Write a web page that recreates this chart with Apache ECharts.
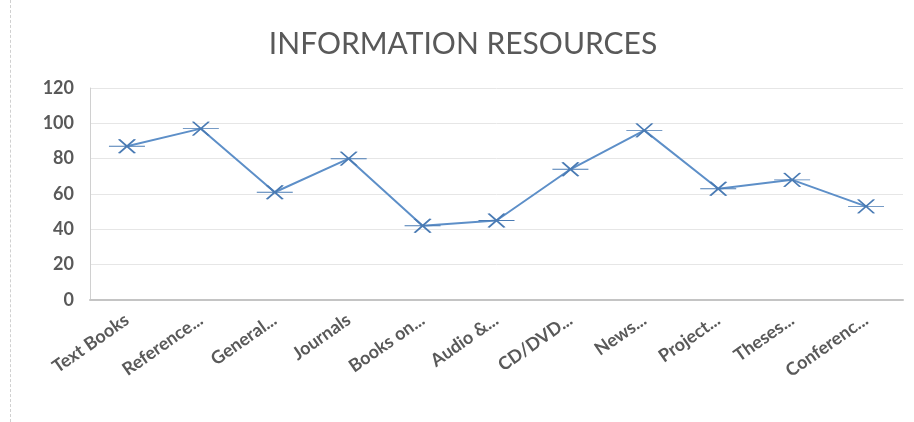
<!DOCTYPE html>
<html>
<head>
<meta charset="utf-8">
<script src="https://cdn.jsdelivr.net/npm/echarts@6/dist/echarts.min.js"></script>
<style>
  html, body { margin: 0; padding: 0; background: #fff; }
  .frame { position: absolute; left: 10px; top: 0; width: 904px; height: 422px; border-left: 1px dashed #d0d0d0; }
  #chart { width: 904px; height: 422px; }
</style>
</head>
<body>
<div class="frame"><div id="chart"></div></div>
<script>
// categories and values
const categories = ["Text Books", "Reference...", "General...", "Journals", "Books on...", "Audio &...",
  "CD/DVD...", "News...", "Project...", "Theses...", "Conferenc..."];
const values = [87, 97, 61, 80, 42, 45, 74, 96, 63, 68, 53];
const yTicks = { min: 0, max: 120, interval: 20 };

const blue = "#4a7bb4";
const grey = "#595959";
// excel style star marker: an X crossed by a wide horizontal bar
const starMarker = "path://M0,7 L36,7 M10,0 L26,14 M26,0 L10,14";

const mycharts = echarts.init(document.getElementById("chart"));
const options = {
  animation: false,
  title: {
    text: "INFORMATION RESOURCES",
    left: "center",
    top: 24,
    textStyle: { fontFamily: "Lato", fontSize: 30, fontWeight: "normal", color: grey }
  },
  grid: { left: 79, right: 12, top: 88, bottom: 122, containLabel: false },
  xAxis: {
    type: "category",
    data: categories,
    axisTick: { show: false },
    axisLine: { lineStyle: { color: "#c4c4c4", width: 2 } },
    axisLabel: {
      rotate: 35,
      margin: 18,
      interval: 0,
      fontFamily: "Lato",
      fontSize: 18,
      fontWeight: "bold",
      color: grey
    }
  },
  yAxis: {
    type: "value",
    min: yTicks.min,
    max: yTicks.max,
    interval: yTicks.interval,
    axisLine: { show: true, lineStyle: { color: "#d0d0d0", width: 1 } },
    axisTick: { show: false },
    splitLine: { lineStyle: { color: "#e6e6e6", width: 1 } },
    axisLabel: { margin: 16, fontFamily: "Lato", fontSize: 18, fontWeight: "bold", color: grey }
  },
  series: [
    {
      type: "line",
      data: values,
      symbol: starMarker,
      symbolSize: [36, 14],
      showAllSymbol: true,
      lineStyle: { color: "#5d8fc8", width: 2 },
      itemStyle: { color: "transparent", borderColor: blue, borderWidth: 1.5 }
    }
  ]
};
mycharts.setOption(options);
</script>
</body>
</html>
